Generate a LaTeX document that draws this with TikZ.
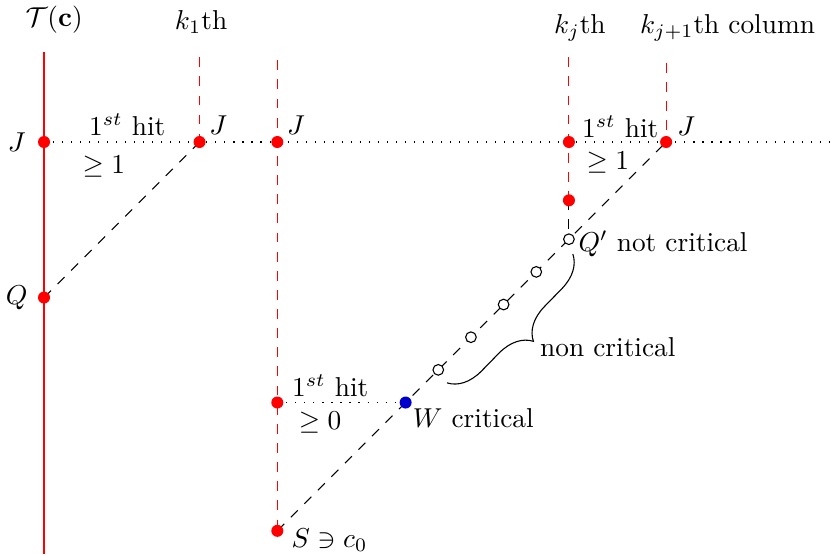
\documentclass[tikz,border=0pt]{standalone}
\usetikzlibrary{calc,decorations.pathreplacing}
\tikzset{
  hit/.style={circle,fill=red,inner sep=0pt,minimum size=4.4pt},
  crit/.style={circle,fill=blue!80!black,inner sep=0pt,minimum size=4.4pt},
  noncrit/.style={circle,draw,fill=white,inner sep=0pt,minimum size=3.9pt},
  dash line/.style={dash pattern=on 3.6pt off 3.4pt},
  column/.style={red,dash line},
  dot line/.style={dash pattern=on 0.4pt off 2.9pt},
}
\begin{document}
\begin{tikzpicture}
  \useasboundingbox (-0.566,-5.3) rectangle (10.12,1.826);
  % points
  \coordinate (J0) at (0,0);
  \coordinate (J1) at (2,0);
  \coordinate (J2) at (3,0);
  \coordinate (J3) at (6.75,0);
  \coordinate (J4) at (8,0);
  \coordinate (Q) at (0,-2);
  \coordinate (H) at (3,-3.35);
  \coordinate (W) at (4.65,-3.35);
  \coordinate (S) at (3,-5);
  \coordinate (R) at (6.75,-0.75);
  \coordinate (Qp) at (6.75,-1.25);
  \coordinate (top0) at (0,1.16);
  \coordinate (bot0) at (0,-5.3);
  \coordinate (top1) at (2,1.09);
  \coordinate (top2) at (3,1.05);
  \coordinate (top3) at (6.75,1.09);
  \coordinate (top4) at (8,1.02);
  \coordinate (rowend) at (10.12,0);
  \coordinate (bt) at (6.80,-1.44);
  \coordinate (bb) at (5.18,-3.10);
  % columns
  \draw[red] (top0) -- (bot0);
  \draw[column] (top1) -- (J1);
  \draw[column] (top2) -- (S);
  \draw[column] (top3) -- (R);
  \draw[column] (top4) -- (J4);
  \draw[dash line] (R) -- (Qp);
  % rows
  \draw[dot line] (J0) -- (rowend);
  \draw[dot line] (H) -- (W);
  % diagonals
  \draw[dash line] (Q) -- (J1);
  \draw[dash line] (S) -- (J4);
  \draw[decorate,decoration={brace,amplitude=12pt}] (bt) -- (bb);
  % dots
  \foreach \p in {J0,J1,J2,J3,J4,Q,H,S,R}
    \node[hit] (d\p) at (\p) {};
  \node[crit] (dW) at (W) {};
  \foreach \i in {1,...,4}
    \node[noncrit] (c\i) at ($(W)!\i/5!(Qp)$) {};
  \node[noncrit] (dQp) at (Qp) {};
  % labels
  \node (lT) at (0.13,1.57) {$\mathcal{T}(\mathbf{c})$};
  \node (lk1) at (2.02,1.54) {$k_1$th};
  \node (lkj) at (6.89,1.47) {$k_j$th};
  \node (lkj1) at (8.79,1.47) {$k_{j+1}$th column};
  \node (lJ0) at (-0.35,0) {$J$};
  \node (lJ1) at (2.24,0.22) {$J$};
  \node (lJ2) at (3.24,0.22) {$J$};
  \node (lJ4) at (8.26,0.2) {$J$};
  \node (lQ) at (-0.35,-2) {$Q$};
  \node (h1) at (1.07,0.22) {$1^{st}$ hit};
  \node (g1) at (0.77,-0.31) {$\geq 1$};
  \node (h2) at (7.41,0.2) {$1^{st}$ hit};
  \node (g2) at (7.25,-0.26) {$\geq 1$};
  \node (h3) at (3.68,-3.14) {$1^{st}$ hit};
  \node (g3) at (3.55,-3.61) {$\geq 0$};
  \node (lW) at (5.52,-3.55) {$W$ critical};
  \node (lS) at (3.67,-5.12) {$S\ni c_0$};
  \node (lQp) at (7.96,-1.31) {$Q'$ not critical};
  \node (lnc) at (7.25,-2.64) {non critical};
\end{tikzpicture}
\end{document}
